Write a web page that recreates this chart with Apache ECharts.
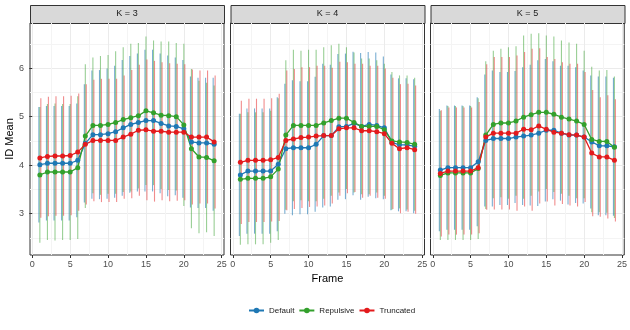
<!DOCTYPE html>
<html>
<head>
<meta charset="utf-8">
<script src="https://cdn.jsdelivr.net/npm/echarts@6/dist/echarts.min.js"></script>
<style>
  html, body { margin: 0; padding: 0; background: #fff; }
  #main { width: 630px; height: 330px; }
</style>
</head>
<body>
<div id="main"></div>
<script type="text/javascript">
    var frames = [1, 2, 3, 4, 5, 6, 7, 8, 9, 10, 11, 12, 13, 14, 15, 16, 17, 18, 19, 20, 21, 22, 23, 24];
    var panelNames = ['K = 3', 'K = 4', 'K = 5'];
    var methods = ['Default', 'Repulsive', 'Truncated'];
    var xTicks = [0, 5, 10, 15, 20, 25];
    var xMinor = [2.5, 7.5, 12.5, 17.5, 22.5];
    var yTicks = [3, 4, 5, 6];
    var yMinor = [2.5, 3.5, 4.5, 5.5, 6.5];

    // K = 3 : mean and sd per frame
    var k3DefaultMean = [4.01, 4.04, 4.04, 4.04, 4.04, 4.10, 4.45, 4.63, 4.63, 4.65, 4.69, 4.77, 4.84, 4.88, 4.92, 4.92, 4.86, 4.81, 4.80, 4.75, 4.48, 4.46, 4.46, 4.43];
    var k3DefaultSd = [1.19, 1.18, 1.18, 1.18, 1.18, 1.17, 1.22, 1.32, 1.33, 1.34, 1.36, 1.40, 1.41, 1.42, 1.46, 1.46, 1.44, 1.45, 1.42, 1.42, 1.35, 1.34, 1.34, 1.37];
    var k3RepulsiveMean = [3.80, 3.86, 3.86, 3.86, 3.86, 3.95, 4.60, 4.82, 4.82, 4.84, 4.88, 4.94, 4.98, 5.02, 5.12, 5.08, 5.03, 5.02, 5.00, 4.83, 4.34, 4.17, 4.16, 4.09];
    var k3RepulsiveSd = [1.40, 1.40, 1.41, 1.40, 1.40, 1.47, 1.48, 1.40, 1.43, 1.43, 1.47, 1.49, 1.52, 1.50, 1.53, 1.49, 1.52, 1.53, 1.52, 1.67, 1.64, 1.57, 1.54, 1.55];
    var k3TruncatedMean = [4.15, 4.18, 4.19, 4.19, 4.20, 4.27, 4.43, 4.51, 4.51, 4.51, 4.51, 4.58, 4.64, 4.72, 4.73, 4.70, 4.70, 4.68, 4.68, 4.68, 4.58, 4.58, 4.58, 4.48];
    var k3TruncatedSd = [1.23, 1.23, 1.23, 1.23, 1.23, 1.21, 1.24, 1.25, 1.27, 1.27, 1.27, 1.27, 1.32, 1.35, 1.45, 1.45, 1.42, 1.42, 1.41, 1.40, 1.39, 1.37, 1.37, 1.37];

    // K = 4
    var k4DefaultMean = [3.80, 3.88, 3.88, 3.88, 3.88, 4.02, 4.34, 4.36, 4.36, 4.36, 4.43, 4.61, 4.61, 4.79, 4.80, 4.86, 4.80, 4.84, 4.82, 4.77, 4.47, 4.42, 4.42, 4.39];
    var k4DefaultSd = [1.26, 1.29, 1.29, 1.29, 1.29, 1.38, 1.34, 1.39, 1.37, 1.37, 1.39, 1.48, 1.46, 1.50, 1.50, 1.48, 1.51, 1.49, 1.50, 1.47, 1.40, 1.37, 1.37, 1.38];
    var k4RepulsiveMean = [3.71, 3.73, 3.73, 3.73, 3.76, 3.92, 4.62, 4.82, 4.82, 4.82, 4.82, 4.87, 4.92, 4.97, 4.97, 4.88, 4.80, 4.80, 4.80, 4.73, 4.50, 4.48, 4.47, 4.43];
    var k4RepulsiveSd = [1.35, 1.36, 1.36, 1.36, 1.36, 1.46, 1.54, 1.56, 1.54, 1.56, 1.56, 1.56, 1.55, 1.53, 1.46, 1.44, 1.40, 1.40, 1.36, 1.36, 1.42, 1.37, 1.38, 1.37];
    var k4TruncatedMean = [4.06, 4.10, 4.10, 4.10, 4.11, 4.16, 4.51, 4.54, 4.57, 4.58, 4.60, 4.61, 4.61, 4.75, 4.77, 4.77, 4.71, 4.71, 4.69, 4.65, 4.45, 4.34, 4.36, 4.32];
    var k4TruncatedSd = [1.27, 1.27, 1.27, 1.27, 1.27, 1.31, 1.44, 1.44, 1.45, 1.44, 1.45, 1.44, 1.40, 1.38, 1.35, 1.32, 1.38, 1.34, 1.36, 1.34, 1.35, 1.33, 1.32, 1.32];

    // K = 5
    var k5DefaultMean = [3.90, 3.95, 3.95, 3.95, 3.95, 4.07, 4.51, 4.55, 4.55, 4.55, 4.58, 4.60, 4.62, 4.66, 4.72, 4.72, 4.66, 4.62, 4.62, 4.58, 4.48, 4.40, 4.40, 4.38];
    var k5DefaultSd = [1.26, 1.28, 1.28, 1.28, 1.28, 1.33, 1.36, 1.40, 1.37, 1.37, 1.36, 1.42, 1.45, 1.50, 1.47, 1.42, 1.39, 1.43, 1.40, 1.37, 1.37, 1.43, 1.43, 1.42];
    var k5RepulsiveMean = [3.79, 3.84, 3.84, 3.84, 3.84, 3.93, 4.62, 4.84, 4.87, 4.87, 4.91, 4.99, 5.04, 5.09, 5.09, 5.05, 4.99, 4.95, 4.91, 4.84, 4.53, 4.49, 4.49, 4.37];
    var k5RepulsiveSd = [1.33, 1.38, 1.38, 1.38, 1.38, 1.45, 1.52, 1.52, 1.53, 1.56, 1.54, 1.68, 1.67, 1.63, 1.58, 1.60, 1.58, 1.58, 1.59, 1.52, 1.50, 1.46, 1.47, 1.46];
    var k5TruncatedMean = [3.83, 3.88, 3.88, 3.88, 3.88, 3.95, 4.58, 4.66, 4.66, 4.66, 4.66, 4.74, 4.73, 4.81, 4.74, 4.68, 4.66, 4.63, 4.62, 4.58, 4.25, 4.17, 4.17, 4.10];
    var k5TruncatedSd = [1.30, 1.31, 1.31, 1.31, 1.31, 1.35, 1.50, 1.57, 1.57, 1.57, 1.60, 1.59, 1.67, 1.60, 1.49, 1.51, 1.46, 1.46, 1.47, 1.34, 1.30, 1.23, 1.27, 1.26];

    var panelMeans = [
        [k3DefaultMean, k3RepulsiveMean, k3TruncatedMean],
        [k4DefaultMean, k4RepulsiveMean, k4TruncatedMean],
        [k5DefaultMean, k5RepulsiveMean, k5TruncatedMean]
    ];
    var panelSds = [
        [k3DefaultSd, k3RepulsiveSd, k3TruncatedSd],
        [k4DefaultSd, k4RepulsiveSd, k4TruncatedSd],
        [k5DefaultSd, k5RepulsiveSd, k5TruncatedSd]
    ];

    var lineColors = ['#1f78b4', '#33a02c', '#e31a1c'];
    var barColors = ['rgba(31,120,180,0.6)', 'rgba(51,160,44,0.5)', 'rgba(227,26,28,0.5)'];
    var dodge = [-0.13, 0, 0.13];
    var font = 'Liberation Sans, Arial, sans-serif';

    var panelLeft = [30, 230.5, 430.5];
    var panelWidth = 194;
    var panelTop = 23;
    var panelHeight = 232;

    var myChart = echarts.init(document.getElementById('main'));

    function errorBar(color) {
        return function (params, api) {
            var lo = api.coord([api.value(0), api.value(1)]);
            var hi = api.coord([api.value(0), api.value(2)]);
            return {
                type: 'line',
                shape: { x1: lo[0], y1: lo[1], x2: hi[0], y2: hi[1] },
                style: { stroke: color, lineWidth: 1.1 }
            };
        };
    }

    var grids = [], xAxes = [], yAxes = [], series = [], graphics = [];

    for (var p = 0; p < 3; p++) {
        grids.push({
            left: panelLeft[p], top: panelTop, width: panelWidth, height: panelHeight,
            show: true, borderColor: '#333333', borderWidth: 1, backgroundColor: '#fff'
        });
        // main x axis
        xAxes.push({
            type: 'value', gridIndex: p, min: -0.3, max: 25.3,
            axisLine: { show: false },
            axisTick: { show: true, length: 3, customValues: xTicks, lineStyle: { color: '#333333' } },
            axisLabel: { customValues: xTicks, color: '#4d4d4d', fontSize: 9, margin: 5, fontFamily: font },
            splitLine: { show: true, lineStyle: { color: '#ebebeb', width: 1 } },
            name: p === 1 ? 'Frame' : '', nameLocation: 'middle', nameGap: 16,
            nameTextStyle: { fontSize: 11, color: '#000', fontFamily: font }
        });
        // minor x grid
        xAxes.push({
            type: 'value', gridIndex: p, min: -0.3, max: 25.3,
            axisLine: { show: false },
            axisTick: { show: false, customValues: xMinor },
            axisLabel: { show: false, customValues: xMinor },
            splitLine: { show: true, lineStyle: { color: '#f4f4f4', width: 1 } }
        });
        yAxes.push({
            type: 'value', gridIndex: p, min: 2.15, max: 6.93,
            axisLine: { show: false },
            axisTick: { show: p === 0, length: 3, customValues: yTicks, lineStyle: { color: '#333333' } },
            axisLabel: { show: p === 0, customValues: yTicks, color: '#4d4d4d', fontSize: 9, margin: 6, fontFamily: font },
            splitLine: { show: true, lineStyle: { color: '#ebebeb', width: 1 } },
            name: p === 0 ? 'ID Mean' : '', nameLocation: 'middle', nameGap: 14,
            nameTextStyle: { fontSize: 11, color: '#000', fontFamily: font }
        });
        yAxes.push({
            type: 'value', gridIndex: p, min: 2.15, max: 6.93,
            axisLine: { show: false },
            axisTick: { show: false, customValues: yMinor },
            axisLabel: { show: false, customValues: yMinor },
            splitLine: { show: true, lineStyle: { color: '#f4f4f4', width: 1 } }
        });

        for (var m = 0; m < 3; m++) {
            var mean = panelMeans[p][m], sd = panelSds[p][m];
            series.push({
                type: 'custom', name: methods[m] + ' sd',
                xAxisIndex: 2 * p, yAxisIndex: 2 * p,
                renderItem: errorBar(barColors[m]),
                encode: { x: 0, y: [1, 2] },
                data: frames.map(function (f, i) { return [f + dodge[m], mean[i] - sd[i], mean[i] + sd[i]]; }),
                z: 1, silent: true
            });
        }
        for (var m2 = 0; m2 < 3; m2++) {
            var mn = panelMeans[p][m2];
            series.push({
                type: 'line', name: methods[m2],
                xAxisIndex: 2 * p, yAxisIndex: 2 * p,
                data: frames.map(function (f, i) { return [f, mn[i]]; }),
                symbol: 'circle', symbolSize: 5,
                lineStyle: { width: 1.3, color: lineColors[m2] },
                itemStyle: { color: lineColors[m2] },
                z: 3
            });
        }

        // facet strip
        graphics.push({
            type: 'rect', left: panelLeft[p], top: 5,
            shape: { width: panelWidth, height: 18 },
            style: { fill: '#d9d9d9', stroke: '#333333', lineWidth: 1 }
        });
        graphics.push({
            type: 'text', x: panelLeft[p] + panelWidth / 2, y: 14,
            style: { text: panelNames[p], fill: '#1a1a1a', font: '9px ' + font, textAlign: 'center', textVerticalAlign: 'middle' }
        });
    }

    var option = {
        animation: false,
        backgroundColor: '#fff',
        textStyle: { fontFamily: font },
        legend: {
            data: methods, left: 248, top: 306.5, padding: 0,
            itemWidth: 15, itemHeight: 7, itemGap: 4,
            textStyle: { fontSize: 8, color: '#1a1a1a', fontFamily: font }
        },
        grid: grids,
        xAxis: xAxes,
        yAxis: yAxes,
        series: series,
        graphic: graphics
    };
    myChart.setOption(option);
</script>
</body>
</html>
